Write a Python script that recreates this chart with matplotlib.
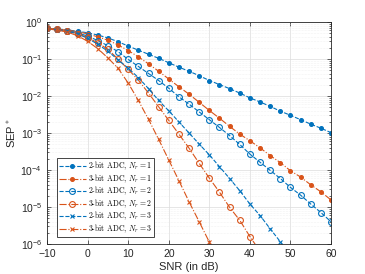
import numpy as np
import matplotlib
matplotlib.use("Agg")
import matplotlib.pyplot as plt

plt.rcParams['font.family'] = ['Liberation Sans', 'DejaVu Sans']
plt.rcParams['mathtext.fontset'] = 'cm'

snr = np.arange(-10, 60.1, 2.5)

# log10(SEP*)
sep_2bit_nr1 = [-0.17, -0.19, -0.21, -0.25, -0.29, -0.35, -0.43, -0.53, -0.65, -0.76,
                -0.87, -0.98, -1.10, -1.22, -1.33, -1.45, -1.58, -1.69, -1.80, -1.92,
                -2.05, -2.16, -2.28, -2.41, -2.52, -2.64, -2.76, -2.87, -2.99]
sep_3bit_nr1 = [-0.17, -0.19, -0.22, -0.26, -0.32, -0.40, -0.49, -0.62, -0.77, -0.94,
                -1.13, -1.33, -1.54, -1.75, -1.95, -2.17, -2.39, -2.60, -2.82, -3.03,
                -3.21, -3.40, -3.61, -3.80, -4.02, -4.19, -4.40, -4.59, -4.81]
sep_2bit_nr2 = [-0.17, -0.20, -0.23, -0.29, -0.38, -0.50, -0.64, -0.80, -1.01, -1.20,
                -1.39, -1.58, -1.79, -2.02, -2.22, -2.43, -2.64, -2.85, -3.07, -3.31,
                -3.57, -3.79, -4.01, -4.23, -4.47, -4.68, -4.92, -5.15, -5.40]
sep_3bit_nr2 = [-0.17, -0.20, -0.24, -0.31, -0.42, -0.56, -0.74, -1.00, -1.28, -1.57,
                -1.92, -2.29, -2.66, -3.03, -3.41, -3.82, -4.22, -4.60, -5.01, -5.36,
                -5.80, -6.20]
sep_2bit_nr3 = [-0.18, -0.21, -0.25, -0.32, -0.44, -0.60, -0.79, -1.02, -1.25, -1.50,
                -1.80, -2.12, -2.40, -2.70, -3.00, -3.30, -3.59, -3.91, -4.23, -4.56,
                -4.92, -5.23, -5.59, -5.94, -6.30]
sep_3bit_nr3 = [-0.18, -0.22, -0.27, -0.37, -0.52, -0.72, -0.97, -1.25, -1.65, -2.12,
                -2.63, -3.17, -3.73, -4.29, -4.86, -5.40, -5.95, -6.50]

labels = ["2-bit ADC, $N_r = 1$", "3-bit ADC, $N_r = 1$",
          "2-bit ADC, $N_r = 2$", "3-bit ADC, $N_r = 2$",
          "2-bit ADC, $N_r = 3$", "3-bit ADC, $N_r = 3$"]

blue = '#0072BD'
orange = '#D95319'

fig = plt.figure(figsize=(3.65, 2.74), dpi=100)
ax = fig.add_axes([0.129, 0.1095, 0.778, 0.81])

series = [sep_2bit_nr1, sep_3bit_nr1, sep_2bit_nr2, sep_3bit_nr2, sep_2bit_nr3, sep_3bit_nr3]
styles = [
    dict(color=blue, ls='--', marker='o', ms=2.6, mfc=blue),
    dict(color=orange, ls='-.', marker='o', ms=2.6, mfc=orange),
    dict(color=blue, ls='--', marker='o', ms=4.2, mfc='none', mew=0.8),
    dict(color=orange, ls='-.', marker='o', ms=4.2, mfc='none', mew=0.8),
    dict(color=blue, ls='--', marker='x', ms=3.2, mew=0.8),
    dict(color=orange, ls='-.', marker='x', ms=3.2, mew=0.8),
]
for vals, st, lab in zip(series, styles, labels):
    ax.semilogy(snr[:len(vals)], 10.0 ** np.array(vals), lw=0.8, label=lab, **st)

ax.set_xlim(-10, 60)
ax.set_ylim(1e-6, 1)
ax.set_xticks(np.arange(-10, 61, 10))
ax.set_yticks([10.0 ** k for k in range(-6, 1)])
ax.grid(True, which='major', color='#dcdcdc', lw=0.5)
ax.grid(True, which='minor', axis='y', color='#e6e6e6', lw=0.4, ls=':')
ax.tick_params(which='both', direction='in', top=True, right=True, labelsize=7.5,
               colors='#262626', width=0.5)
ax.tick_params(which='major', length=3)
ax.tick_params(which='minor', length=1.5)
for sp in ax.spines.values():
    sp.set_color('#262626')
    sp.set_linewidth(0.6)

ax.set_xlabel("SNR (in dB)", fontsize=8, color='#262626', labelpad=2)
ax.set_ylabel("SEP$^*$", fontsize=8, color='#262626', labelpad=2)

leg = ax.legend(loc='lower left', bbox_to_anchor=(0.036, 0.033), borderaxespad=0,
                prop={'family': 'cmr10', 'size': 5.6}, labelspacing=0.0,
                handlelength=3.4, handleheight=0.5, handletextpad=0.3, borderpad=0.25,
                fancybox=False, edgecolor='#262626', framealpha=1)
leg.get_frame().set_linewidth(0.6)

fig.savefig("out.png", dpi=100)
